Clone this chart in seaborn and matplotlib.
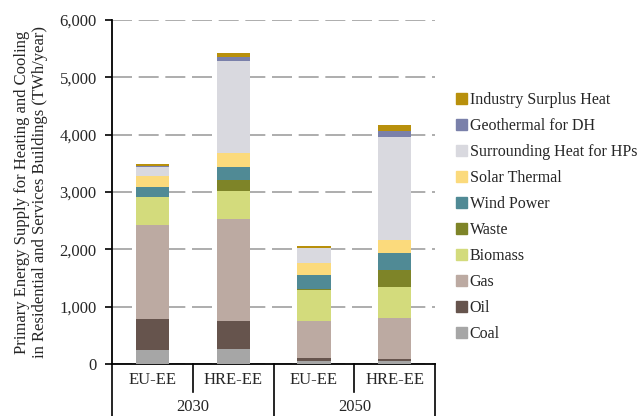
import numpy as np
import pandas as pd
import seaborn as sns
import matplotlib
matplotlib.use("Agg")
import matplotlib.pyplot as plt
from matplotlib.patches import Patch
from matplotlib.transforms import blended_transform_factory

# Dados (TWh/ano)
cenarios = ["EU-EE", "HRE-EE", "EU-EE", "HRE-EE"]
anos = ["2030", "2050"]
chaves = ["EU-EE 2030", "HRE-EE 2030", "EU-EE 2050", "HRE-EE 2050"]

# fontes, de baixo para cima
fontes = ["Coal", "Oil", "Gas", "Biomass", "Waste", "Wind Power",
          "Solar Thermal", "Surrounding Heat for HPs", "Geothermal for DH",
          "Industry Surplus Heat"]

coal = [245, 255, 55, 55]
oil = [540, 500, 45, 35]
gas = [1640, 1770, 645, 718]
biomass = [483, 494, 541, 530]
waste = [0, 190, 30, 302]
wind = [185, 232, 232, 291]
solar = [191, 234, 222, 232]
surrounding = [157, 1610, 255, 1791]
geothermal = [10, 65, 0, 110]
industry = [32, 69, 29, 105]

cores = {
    "Coal": "#a6a6a6",
    "Oil": "#66544d",
    "Gas": "#bcaaa2",
    "Biomass": "#d3db7c",
    "Waste": "#7e8428",
    "Wind Power": "#508a95",
    "Solar Thermal": "#fbda7c",
    "Surrounding Heat for HPs": "#d9d9df",
    "Geothermal for DH": "#7a80aa",
    "Industry Surplus Heat": "#b8900c",
}

valores = [coal, oil, gas, biomass, waste, wind, solar, surrounding,
           geothermal, industry]
df = pd.DataFrame(dict(zip(fontes, valores)), index=chaves)
acumulado = df.cumsum(axis=1)

plt.rcParams["font.family"] = ["Liberation Serif", "DejaVu Serif"]
plt.rcParams["text.color"] = "#262626"
plt.rcParams["axes.labelcolor"] = "#262626"
plt.rcParams["xtick.labelcolor"] = "#262626"
plt.rcParams["ytick.labelcolor"] = "#262626"
fig = plt.figure(figsize=(6.4, 4.16), dpi=100)
ax = fig.add_axes([0.175, 0.125, 0.505, 0.827])

# empilhamento: desenha do topo para a base
for fonte in fontes[::-1]:
    sns.barplot(x=chaves, y=acumulado[fonte].values, order=chaves,
                color=cores[fonte], width=0.41, saturation=1,
                linewidth=0, ax=ax, zorder=3)

ax.set_ylim(0, 6000)
ax.set_xlim(-0.5, 3.5)
ax.set_yticks(np.arange(0, 6001, 1000))
ax.set_yticklabels([f"{v:,}" for v in range(0, 6001, 1000)], fontsize=12)
ax.yaxis.grid(True, color="#a0a0a0", linestyle=(0, (12, 4)), linewidth=1.2)
ax.set_axisbelow(True)
for s in ["top", "right"]:
    ax.spines[s].set_visible(False)
ax.spines["left"].set_linewidth(1.3)
ax.spines["bottom"].set_linewidth(1.3)
ax.tick_params(axis="y", length=5, width=1.2, direction="out", pad=6)
ax.tick_params(axis="x", length=0, pad=6)
ax.set_xticks(range(4))
ax.set_xticklabels(cenarios, fontsize=12)
ax.set_xlabel("")
ax.set_ylabel("Primary Energy Supply for Heating and Cooling\n"
              "in Residential and Services Buildings (TWh/year)",
              fontsize=12, labelpad=8)

# eixo agrupado (anos)
trans = blended_transform_factory(ax.transData, ax.transAxes)
for xb, y0 in [(-0.5, -0.16), (0.5, -0.082), (1.5, -0.16), (2.5, -0.082), (3.5, -0.16)]:
    ax.plot([xb, xb], [0, y0], color="black", lw=1.2, transform=trans, clip_on=False)
for i, ano in enumerate(anos):
    ax.text(0.5 + 2 * i, -0.125, ano, transform=trans, ha="center",
            va="center", fontsize=12)

handles = [Patch(color=cores[f], label=f) for f in fontes[::-1]]
fig.legend(handles=handles, loc="center left", bbox_to_anchor=(0.69, 0.478),
           frameon=False, fontsize=11.5, handlelength=0.7, handleheight=0.7,
           handletextpad=0.15, labelspacing=0.63)

fig.savefig("out.png", dpi=100)
